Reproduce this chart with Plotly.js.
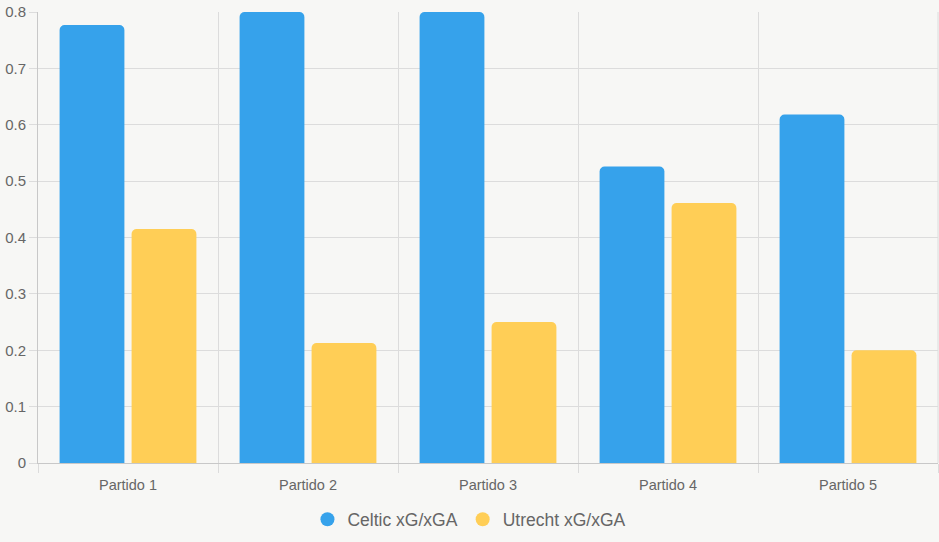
<!DOCTYPE html>
<html>
<head>
<meta charset="utf-8">
<script src="https://cdn.plot.ly/plotly-3.0.1.min.js"></script>
<style>
html,body{margin:0;padding:0;background:#f7f7f5;}
#chart{width:939px;height:542px;}
</style>
</head>
<body>
<div id="chart"></div>
<script>
const categories = ["Partido 1", "Partido 2", "Partido 3", "Partido 4", "Partido 5"];
const celticValues = [0.777, 0.80, 0.80, 0.526, 0.618];
const utrechtValues = [0.415, 0.213, 0.25, 0.461, 0.20];
const seriesNames = ["Celtic xG/xGA", "Utrecht xG/xGA"];
const seriesColors = ["#36A2EB", "#FFCE56"];
const yTicks = [0, 0.1, 0.2, 0.3, 0.4, 0.5, 0.6, 0.7, 0.8];
const yTickLabels = ["0", "0.1", "0.2", "0.3", "0.4", "0.5", "0.6", "0.7", "0.8"];

const series = [celticValues, utrechtValues];
const traces = [];
series.forEach((vals, i) => {
  traces.push({
    type: "bar",
    x: categories,
    y: vals,
    name: seriesNames[i],
    showlegend: false,
    marker: {color: seriesColors[i], cornerradius: 5, line: {width: 0}},
    hoverinfo: "x+y+name"
  });
});
series.forEach((vals, i) => {
  traces.push({
    type: "scatter",
    mode: "markers",
    x: [null],
    y: [null],
    name: seriesNames[i],
    marker: {color: seriesColors[i], size: 14, symbol: "circle"},
    showlegend: true,
    hoverinfo: "skip"
  });
});

const layout = {
  width: 939,
  height: 542,
  paper_bgcolor: "#f7f7f5",
  plot_bgcolor: "#f7f7f5",
  margin: {l: 38, r: 1, t: 12, b: 79},
  barmode: "group",
  bargap: 0.2,
  bargroupgap: 0.1,
  font: {family: "Liberation Sans, Arial, sans-serif", color: "#666", size: 13},
  xaxis: {
    type: "category",
    tickson: "boundaries",
    ticks: "outside",
    ticklen: 9,
    tickcolor: "#dcdcdc",
    showgrid: true,
    gridcolor: "#dcdcdc",
    showline: true,
    linecolor: "#c8c8c8",
    tickfont: {size: 14.5, color: "#666"},
    ticklabelstandoff: 9,
    fixedrange: true
  },
  yaxis: {
    range: [0, 0.8],
    tickvals: yTicks,
    ticktext: yTickLabels,
    ticks: "outside",
    ticklen: 8,
    tickcolor: "#dcdcdc",
    showgrid: true,
    gridcolor: "#dcdcdc",
    zeroline: false,
    showline: true,
    linecolor: "#c8c8c8",
    tickfont: {size: 15, color: "#666"},
    fixedrange: true
  },
  shapes: [
    {type: "line", xref: "paper", yref: "paper", x0: 1, x1: 1, y0: 0, y1: 1, line: {color: "#dcdcdc", width: 1}}
  ],
  legend: {
    orientation: "h",
    x: 0.4794,
    xanchor: "center",
    y: -0.085,
    yanchor: "top",
    font: {size: 17.5, color: "#666"},
    bgcolor: "rgba(0,0,0,0)",
    itemwidth: 30
  }
};

Plotly.newPlot("chart", traces, layout, {displayModeBar: false, staticPlot: true});
</script>
</body>
</html>
